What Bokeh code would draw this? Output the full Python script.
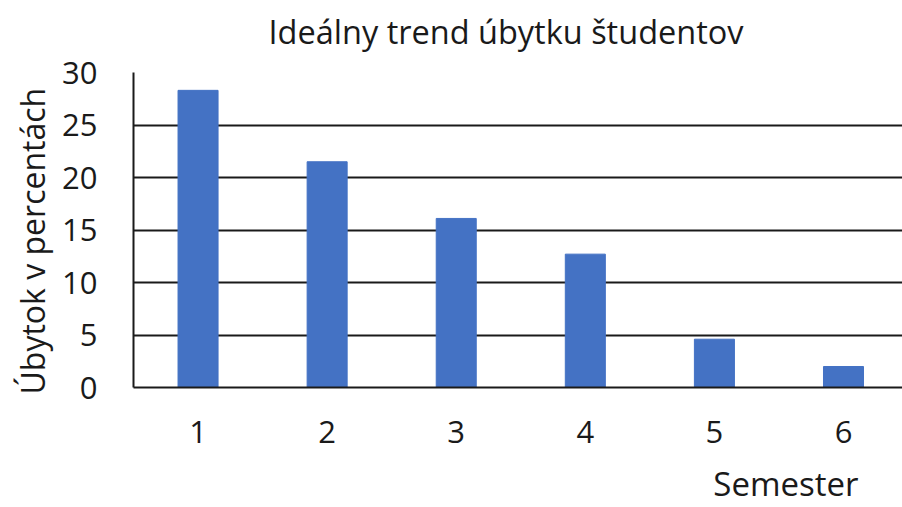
from bokeh.plotting import figure
from bokeh.models import Range1d, FixedTicker, Title
from bokeh.embed import file_html
from bokeh.resources import INLINE

semesters = [1, 2, 3, 4, 5, 6]
ubytok = [28.3, 21.5, 16.1, 12.7, 4.6, 2.0]
y_ticks = [0, 5, 10, 15, 20, 25, 30]
title_text = "Ideálny trend úbytku študentov"
y_label = "Úbytok v percentách"
x_label = "Semester"

FONT = "Open Sans"
TXT = "#1a1a1a"

p = figure(width=902, height=507, output_backend="svg", toolbar_location=None,
           title=None,
           x_range=Range1d(0.5, 6.457), y_range=Range1d(0, 30),
           min_border_left=133, min_border_right=0, min_border_top=72, min_border_bottom=120)

p.vbar(x=semesters, top=ubytok, width=0.31, color="#4472C4")

p.outline_line_color = None
p.xgrid.grid_line_color = None
p.ygrid.grid_line_color = TXT
p.ygrid.grid_line_width = 2
p.ygrid.ticker = FixedTicker(ticks=y_ticks)

p.yaxis.ticker = FixedTicker(ticks=y_ticks)
p.yaxis.major_tick_line_color = None
p.yaxis.minor_tick_line_color = None
p.yaxis.major_tick_out = 0
p.yaxis.major_label_standoff = 36
p.yaxis.axis_line_color = TXT
p.yaxis.axis_line_width = 2
p.yaxis.major_label_text_font = FONT
p.yaxis.major_label_text_font_size = "31px"
p.yaxis.major_label_text_color = TXT

p.xaxis.ticker = FixedTicker(ticks=semesters)
p.xaxis.major_tick_line_color = None
p.xaxis.minor_tick_line_color = None
p.xaxis.major_tick_out = 0
p.xaxis.major_label_standoff = 33
p.xaxis.axis_line_color = TXT
p.xaxis.axis_line_width = 2
p.xaxis.major_label_text_font = FONT
p.xaxis.major_label_text_font_size = "31px"
p.xaxis.major_label_text_color = TXT

# spacer between frame and chart title
p.add_layout(Title(text=" ", text_font_size="1px", standoff=16), "above")
p.add_layout(Title(text=title_text, align="left", offset=135, standoff=0,
                   vertical_align="bottom", text_font=FONT, text_font_size="32.5px",
                   text_font_style="normal", text_color=TXT), "above")

p.add_layout(Title(text=y_label, align="left", offset=-7, standoff=12,
                   vertical_align="bottom", text_font=FONT, text_font_size="32px",
                   text_font_style="normal", text_color=TXT), "left")

# spacer between x axis and axis title
p.add_layout(Title(text=" ", text_font_size="1px", standoff=10), "below")
p.add_layout(Title(text=x_label, align="right", offset=44, standoff=0,
                   vertical_align="bottom", text_font=FONT, text_font_size="33px",
                   text_font_style="normal", text_color=TXT), "below")

open("out.html", "w").write(file_html(p, INLINE))
